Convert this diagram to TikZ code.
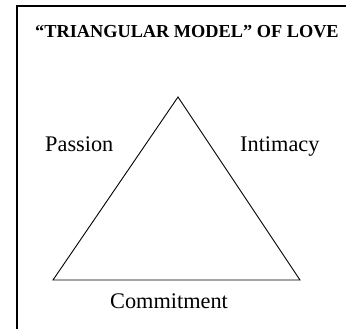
\documentclass[tikz,border=0pt]{standalone}
\usepackage{fontspec}
\setmainfont{Liberation Serif}
\begin{document}
\begin{tikzpicture}[x=1pt,y=-1pt,
  frameline/.style={line width=2pt},
  edge/.style={line width=0.9pt},
  label/.style={anchor=base west,inner sep=0pt,font=\fontsize{22.3}{25}\selectfont},
  titlelabel/.style={anchor=base west,inner sep=0pt,font=\bfseries\fontsize{18.3}{21}\selectfont}]
\useasboundingbox (0,0) rectangle (346,329);
\coordinate (fb) at (17,329);
\coordinate (ftl) at (17,6);
\coordinate (fr) at (346,6);
\draw[frameline] (fb) -- (ftl) -- (fr);
\node[titlelabel] (title) at (35,38) {“TRIANGULAR MODEL” OF LOVE};
\coordinate (apex) at (178,97);
\coordinate (bl) at (53,280);
\coordinate (br) at (300,280);
\draw[edge,line join=miter] (apex) -- (br) -- (bl) -- cycle;
\node[label] (passion) at (45,152) {Passion};
\node[label] (intimacy) at (240,152) {Intimacy};
\node[label] (commitment) at (110,308) {Commitment};
\end{tikzpicture}
\end{document}
